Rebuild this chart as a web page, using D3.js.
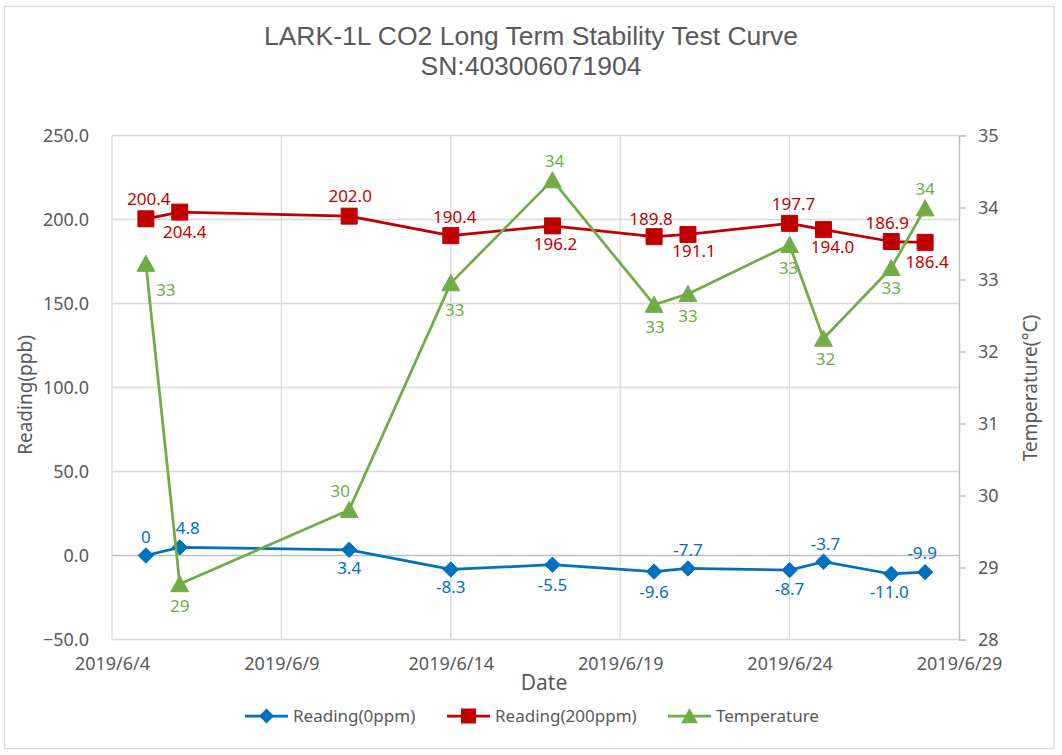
<!DOCTYPE html>
<html>
<head>
<meta charset="utf-8">
<script src="https://cdn.jsdelivr.net/npm/d3@7/dist/d3.min.js"></script>
<style>
  html, body { margin: 0; padding: 0; background: #fff; }
  svg { display: block; }
  text { font-family: "Noto Sans", "Open Sans", sans-serif; }
</style>
</head>
<body>
<svg id="chart" width="1062" height="755"></svg>
<script>
// ---------------- DATA ----------------
const dates = ["2019-06-05","2019-06-06","2019-06-11","2019-06-14","2019-06-17","2019-06-20","2019-06-21","2019-06-24","2019-06-25","2019-06-27","2019-06-28"];
const reading0 = [0, 4.8, 3.4, -8.3, -5.5, -9.6, -7.7, -8.7, -3.7, -11.0, -9.9];
const reading0Labels = ["0","4.8","3.4","-8.3","-5.5","-9.6","-7.7","-8.7","-3.7","-11.0","-9.9"];
const reading200 = [200.4, 204.4, 202.0, 190.4, 196.2, 189.8, 191.1, 197.7, 194.0, 186.9, 186.4];
const temperature = [33.22, 28.77, 29.80, 32.95, 34.38, 32.65, 32.80, 33.48, 32.18, 33.16, 33.99];
const xTickDates = ["2019-06-04","2019-06-09","2019-06-14","2019-06-19","2019-06-24","2019-06-29"];
const xTickLabels = ["2019/6/4","2019/6/9","2019/6/14","2019/6/19","2019/6/24","2019/6/29"];
const yLeftTicks = [-50, 0, 50, 100, 150, 200, 250];
const yRightTicks = [28, 29, 30, 31, 32, 33, 34, 35];
const seriesNames = ["Reading(0ppm)", "Reading(200ppm)", "Temperature"];
const titleLines = ["LARK-1L CO2 Long Term Stability Test Curve", "SN:403006071904"];

// ---------------- LAYOUT ----------------
const parse = d3.utcParse("%Y-%m-%d");
const plot = { left: 112, right: 959, top: 135.5, bottom: 639.5 };
const colors = { blue: "#0070C0", red: "#C00000", green: "#70AD47", text: "#595959", grid: "#D9D9D9", axis: "#BFBFBF" };

// label offsets [dx, dy] relative to the point (layout only)
const off0 = [[0,-18],[8,-19],[0,18],[0,18],[0,20],[0,20],[0,-18],[0,19],[2,-18],[-2,18],[-3,-19]];
const off200 = [[3,-20],[5,20],[1,-20],[4,-19],[3,18],[-3,-18],[6,17],[4,-19],[9,17],[-4,-18],[2,20]];
const offT = [[20,26],[0,22],[-9,-19],[4,27],[2,-19],[1,22],[0,22],[-1,23],[2,21],[0,20],[0,-19]];

const svg = d3.select("#chart");

const x = d3.scaleUtc().domain([parse(xTickDates[0]), parse(xTickDates[xTickDates.length-1])]).range([plot.left, plot.right]);
const yL = d3.scaleLinear().domain([-50, 250]).range([plot.bottom, plot.top]);
const yR = d3.scaleLinear().domain([28, 35]).range([plot.bottom, plot.top]);

// border
svg.append("rect").attr("x", 4.5).attr("y", 6.5).attr("width", 1049.5).attr("height", 742)
  .attr("fill", "#fff").attr("stroke", colors.grid).attr("stroke-width", 1.3);

// horizontal gridlines
svg.append("g").selectAll("line").data(yLeftTicks.filter(v => v !== 0)).join("line")
  .attr("x1", plot.left).attr("x2", plot.right)
  .attr("y1", d => yL(d)).attr("y2", d => yL(d))
  .attr("stroke", colors.grid).attr("stroke-width", 1.3);

// vertical gridlines
svg.append("g").selectAll("line").data(xTickDates.slice(0, -1)).join("line")
  .attr("x1", d => x(parse(d))).attr("x2", d => x(parse(d)))
  .attr("y1", plot.top).attr("y2", plot.bottom)
  .attr("stroke", colors.grid).attr("stroke-width", 1.3);

// zero line (x axis)
svg.append("line").attr("x1", plot.left).attr("x2", plot.right)
  .attr("y1", yL(0)).attr("y2", yL(0)).attr("stroke", colors.axis).attr("stroke-width", 1.5);

// right axis
const rAxis = d3.axisRight(yR).tickValues(yRightTicks).tickSize(7).tickPadding(12).tickFormat(d3.format("d"));
const rg = svg.append("g").attr("transform", `translate(${plot.right},0)`).call(rAxis);
rg.select(".domain").attr("stroke", colors.axis).attr("stroke-width", 1.5);
rg.selectAll(".tick line").attr("stroke", colors.axis).attr("stroke-width", 1.5);
rg.selectAll(".tick text").attr("fill", colors.text).style("font-size", "18px").style("font-family", "Noto Sans");

// left axis labels
const lAxis = d3.axisLeft(yL).tickValues(yLeftTicks).tickSize(0).tickPadding(23).tickFormat(d3.format(".1f"));
const lg = svg.append("g").attr("transform", `translate(${plot.left},0)`).call(lAxis);
lg.select(".domain").remove();
lg.selectAll(".tick text").attr("fill", colors.text).style("font-size", "18px").style("font-family", "Noto Sans");

// bottom axis labels
const bAxis = d3.axisBottom(x).tickValues(xTickDates.map(parse)).tickSize(0).tickPadding(18)
  .tickFormat((d, i) => xTickLabels[i]);
const bg = svg.append("g").attr("transform", `translate(0,${plot.bottom})`).call(bAxis);
bg.select(".domain").remove();
bg.selectAll(".tick text").attr("fill", colors.text).style("font-size", "18px").style("font-family", "Noto Sans");

// title
svg.append("g").selectAll("text").data(titleLines).join("text")
  .attr("x", 531).attr("y", (d, i) => 45 + i * 30)
  .attr("text-anchor", "middle").attr("fill", colors.text)
  .style("font-family", "Liberation Sans, Arial, sans-serif").style("font-size", "26.5px")
  .text(d => d);

// axis titles
svg.append("text").attr("x", 544).attr("y", 690).attr("text-anchor", "middle")
  .attr("fill", colors.text).style("font-size", "21px").text("Date");
svg.append("text").attr("transform", "translate(32,395) rotate(-90)").attr("text-anchor", "middle")
  .attr("fill", colors.text).style("font-size", "19px").text("Reading(ppb)");
svg.append("text").attr("transform", "translate(1037,388) rotate(-90)").attr("text-anchor", "middle")
  .attr("fill", colors.text).style("font-size", "19px").text("Temperature(°C)");

// ---------------- SERIES ----------------
const pts0 = dates.map((d, i) => [x(parse(d)), yL(reading0[i])]);
const pts200 = dates.map((d, i) => [x(parse(d)), yL(reading200[i])]);
const ptsT = dates.map((d, i) => [x(parse(d)), yR(temperature[i])]);
const line = d3.line();

function diamondPath(s) { return `M0,${-s}L${s},0L0,${s}L${-s},0Z`; }
function squarePath(s) { return `M${-s},${-s}H${s}V${s}H${-s}Z`; }
function trianglePath(s) { return `M0,${-s}L${s*1.05},${s*0.9}L${-s*1.05},${s*0.9}Z`; }

function drawSeries(pts, color, pathFn, size) {
  const g = svg.append("g");
  g.append("path").attr("d", line(pts)).attr("fill", "none").attr("stroke", color)
    .attr("stroke-width", 2.75).attr("stroke-linejoin", "round");
  g.selectAll("path.m").data(pts).join("path").attr("class", "m")
    .attr("transform", d => `translate(${d[0]},${d[1]})`)
    .attr("d", pathFn(size)).attr("fill", color).attr("stroke", color).attr("stroke-width", 1);
}
drawSeries(pts0, colors.blue, diamondPath, 7.7);
drawSeries(pts200, colors.red, squarePath, 8);
drawSeries(ptsT, colors.green, trianglePath, 8.5);

function drawLabels(pts, labels, offs, color) {
  svg.append("g").selectAll("text").data(pts).join("text")
    .attr("x", (d, i) => d[0] + offs[i][0]).attr("y", (d, i) => d[1] + offs[i][1])
    .attr("dy", "0.35em").attr("text-anchor", "middle").attr("fill", color)
    .style("font-size", "17px").text((d, i) => labels[i]);
}
drawLabels(pts0, reading0Labels, off0, colors.blue);
drawLabels(pts200, reading200.map(d3.format(".1f")), off200, colors.red);
drawLabels(ptsT, temperature.map(d3.format(".0f")), offT, colors.green);

// ---------------- LEGEND ----------------
const legendItems = [
  { name: seriesNames[0], color: colors.blue, path: diamondPath(7.5), x: 245 },
  { name: seriesNames[1], color: colors.red, path: squarePath(7.5), x: 447 },
  { name: seriesNames[2], color: colors.green, path: trianglePath(8), x: 668 }
];
const lgd = svg.append("g").attr("transform", "translate(0,716)");
legendItems.forEach(it => {
  const g = lgd.append("g").attr("transform", `translate(${it.x},0)`);
  g.append("line").attr("x1", 0).attr("x2", 43).attr("y1", 0).attr("y2", 0)
    .attr("stroke", it.color).attr("stroke-width", 2.75);
  g.append("path").attr("transform", "translate(21.5,0)").attr("d", it.path).attr("fill", it.color);
  g.append("text").attr("x", 48).attr("y", 0).attr("dy", "0.35em").attr("fill", colors.text)
    .style("font-size", "17px").text(it.name);
});
</script>
</body>
</html>
